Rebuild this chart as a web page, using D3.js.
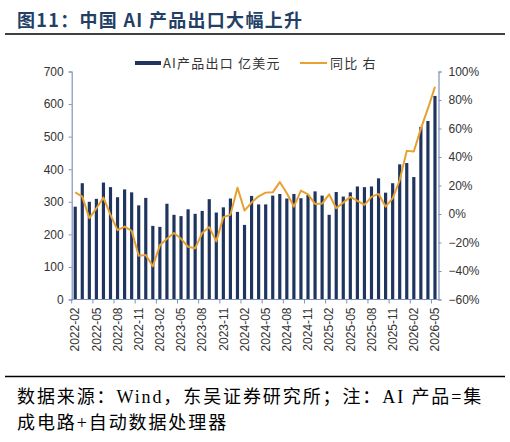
<!DOCTYPE html>
<html>
<head>
<meta charset="utf-8">
<script src="https://cdn.jsdelivr.net/npm/d3@7"></script>
<style>
  body { margin: 0; background: #fff; }
  svg { display: block; }
</style>
</head>
<body>
<svg id="chart"></svg>
<script>
var width = 510,
    height = 442;

// months 2022-02 .. 2026-05
var months = [];
for (var y = 2022; y <= 2026; y++) {
  for (var m = 1; m <= 12; m++) {
    if ((y === 2022 && m < 2) || (y === 2026 && m > 5)) continue;
    months.push(y + '-' + (m < 10 ? '0' + m : m));
  }
}

// AI产品出口 亿美元
var exportsVal = [285, 357, 300, 309, 359, 345, 314, 338, 329, 289, 312, 226,
                  223, 294, 260, 256, 277, 263, 272, 308, 267, 283, 310, 269,
                  229, 318, 292, 292, 319, 324, 310, 324, 311, 321, 332, 319,
                  260, 330, 316, 329, 347, 345, 347, 372, 328, 357, 415, 419,
                  376, 530, 548, 625];

// 同比 (%) 右轴
var yoyVal = [15.2, 12.2, -2.9, 4.0, 11.5, -0.6, -11.3, -8.8, -11.8, -29.3, -28.8, -36.7,
              -22.0, -17.4, -13.4, -17.4, -23.0, -24.1, -13.4, -9.2, -19.2, -2.2, -0.6, 18.5,
              2.4, 8.0, 12.4, 15.0, 15.2, 22.4, 14.5, 5.2, 16.4, 13.8, 7.1, 7.3,
              13.8, 4.0, 8.0, 12.0, 9.2, 6.4, 12.0, 14.1, 5.2, 11.0, 23.8, 44.3,
              43.9, 59.9, 73.9, 89.3];

var leftTicks = [0, 100, 200, 300, 400, 500, 600, 700];
var rightTicks = [-60, -40, -20, 0, 20, 40, 60, 80, 100];

var axisColor = '#7f92bd',
    barColor = '#1f3560',
    lineColor = '#e8a030',
    textColor = '#333';

var plotL = 71.7, plotR = 438.5, plotT = 71.5, plotB = 299.5;

var svg = d3.select('#chart')
            .attr('width', width)
            .attr('height', height);

// title + rules
svg.append('text')
   .attr('x', 17).attr('y', 27)
   .attr('font-family', '"Noto Sans CJK SC", sans-serif')
   .attr('font-weight', 'bold')
   .attr('font-size', 18)
   .attr('letter-spacing', 1.3)
   .attr('fill', '#243f66')
   .text('图11：中国 AI 产品出口大幅上升');

svg.append('line')
   .attr('x1', 5).attr('x2', 505).attr('y1', 34).attr('y2', 34)
   .attr('stroke', '#000').attr('stroke-width', 1.5);

svg.append('line')
   .attr('x1', 5).attr('x2', 505).attr('y1', 376.5).attr('y2', 376.5)
   .attr('stroke', '#000').attr('stroke-width', 1.5);

var noteFont = '"Liberation Serif", "Noto Sans CJK SC", serif';
svg.append('text')
   .attr('x', 17).attr('y', 403)
   .attr('font-family', noteFont).attr('font-size', 18)
   .attr('letter-spacing', 1.9).attr('fill', '#000')
   .text('数据来源：Wind，东吴证券研究所；注：AI 产品=集');
svg.append('text')
   .attr('x', 17).attr('y', 429)
   .attr('font-family', noteFont).attr('font-size', 18)
   .attr('letter-spacing', 1.9).attr('fill', '#000')
   .text('成电路+自动数据处理器');

// scales
var x = d3.scaleBand()
          .domain(months)
          .range([plotL, plotR])
          .paddingInner(0.55)
          .paddingOuter(0.275);

var yL = d3.scaleLinear().domain([0, 700]).range([plotB, plotT]);
var yR = d3.scaleLinear().domain([-60, 100]).range([plotB, plotT]);

// bars
svg.append('g')
   .selectAll('rect')
   .data(exportsVal)
   .enter()
   .append('rect')
     .attr('x', (d, i) => x(months[i]))
     .attr('width', x.bandwidth())
     .attr('y', d => yL(d))
     .attr('height', d => yL(0) - yL(d))
     .attr('fill', barColor);

// yoy line
var line = d3.line()
             .x((d, i) => x(months[i]) + x.bandwidth() / 2)
             .y(d => yR(d));

svg.append('path')
   .datum(yoyVal)
   .attr('d', line)
   .attr('fill', 'none')
   .attr('stroke', lineColor)
   .attr('stroke-width', 2)
   .attr('stroke-linejoin', 'round');

// axes
var axisL = svg.append('g')
               .attr('transform', 'translate(' + plotL + ',0)')
               .call(d3.axisLeft(yL).tickValues(leftTicks).tickSize(3).tickPadding(5));

var axisR = svg.append('g')
               .attr('transform', 'translate(' + plotR + ',0)')
               .call(d3.axisRight(yR).tickValues(rightTicks).tickSize(3).tickPadding(7)
                       .tickFormat(d => d3.format('d')(d) + '%'));

var step = x.step();
var axisB = svg.append('g')
               .attr('transform', 'translate(0,' + plotB + ')')
               .call(d3.axisBottom(x)
                       .tickValues(months.filter((d, i) => i % 3 === 0))
                       .tickSize(0).tickPadding(6));

// tick marks on category boundaries
axisB.selectAll('.tick')
     .append('line')
       .attr('x1', -step / 2).attr('x2', -step / 2)
       .attr('y1', 0).attr('y2', 4)
       .attr('stroke', axisColor);

axisB.selectAll('.tick text')
     .attr('transform', 'rotate(-90)')
     .attr('text-anchor', 'end')
     .attr('x', -8)
     .attr('y', 0)
     .attr('dy', '0.35em');

[axisL, axisR, axisB].forEach(function (a) {
  a.select('.domain').attr('stroke', axisColor).attr('stroke-width', 1.2);
  a.selectAll('.tick line').attr('stroke', axisColor);
  a.selectAll('.tick text')
   .attr('font-family', '"Liberation Sans", Arial, sans-serif')
   .attr('font-size', 12)
   .attr('fill', textColor);
});
axisB.select('.domain').attr('d', 'M' + plotL + ',0H' + plotR);

// legend
var legFont = '"Noto Sans CJK SC", sans-serif';
svg.append('rect')
   .attr('x', 135).attr('y', 61).attr('width', 26).attr('height', 4)
   .attr('fill', barColor);
svg.append('text')
   .attr('x', 163).attr('y', 67.5)
   .attr('font-family', legFont).attr('font-size', 13)
   .attr('letter-spacing', 1.2)
   .attr('fill', textColor)
   .text('AI产品出口  亿美元');
svg.append('line')
   .attr('x1', 300).attr('x2', 327).attr('y1', 63).attr('y2', 63)
   .attr('stroke', lineColor).attr('stroke-width', 2);
svg.append('text')
   .attr('x', 330).attr('y', 67.5)
   .attr('font-family', legFont).attr('font-size', 13)
   .attr('letter-spacing', 1.2)
   .attr('fill', textColor)
   .text('同比  右');
</script>
</body>
</html>
